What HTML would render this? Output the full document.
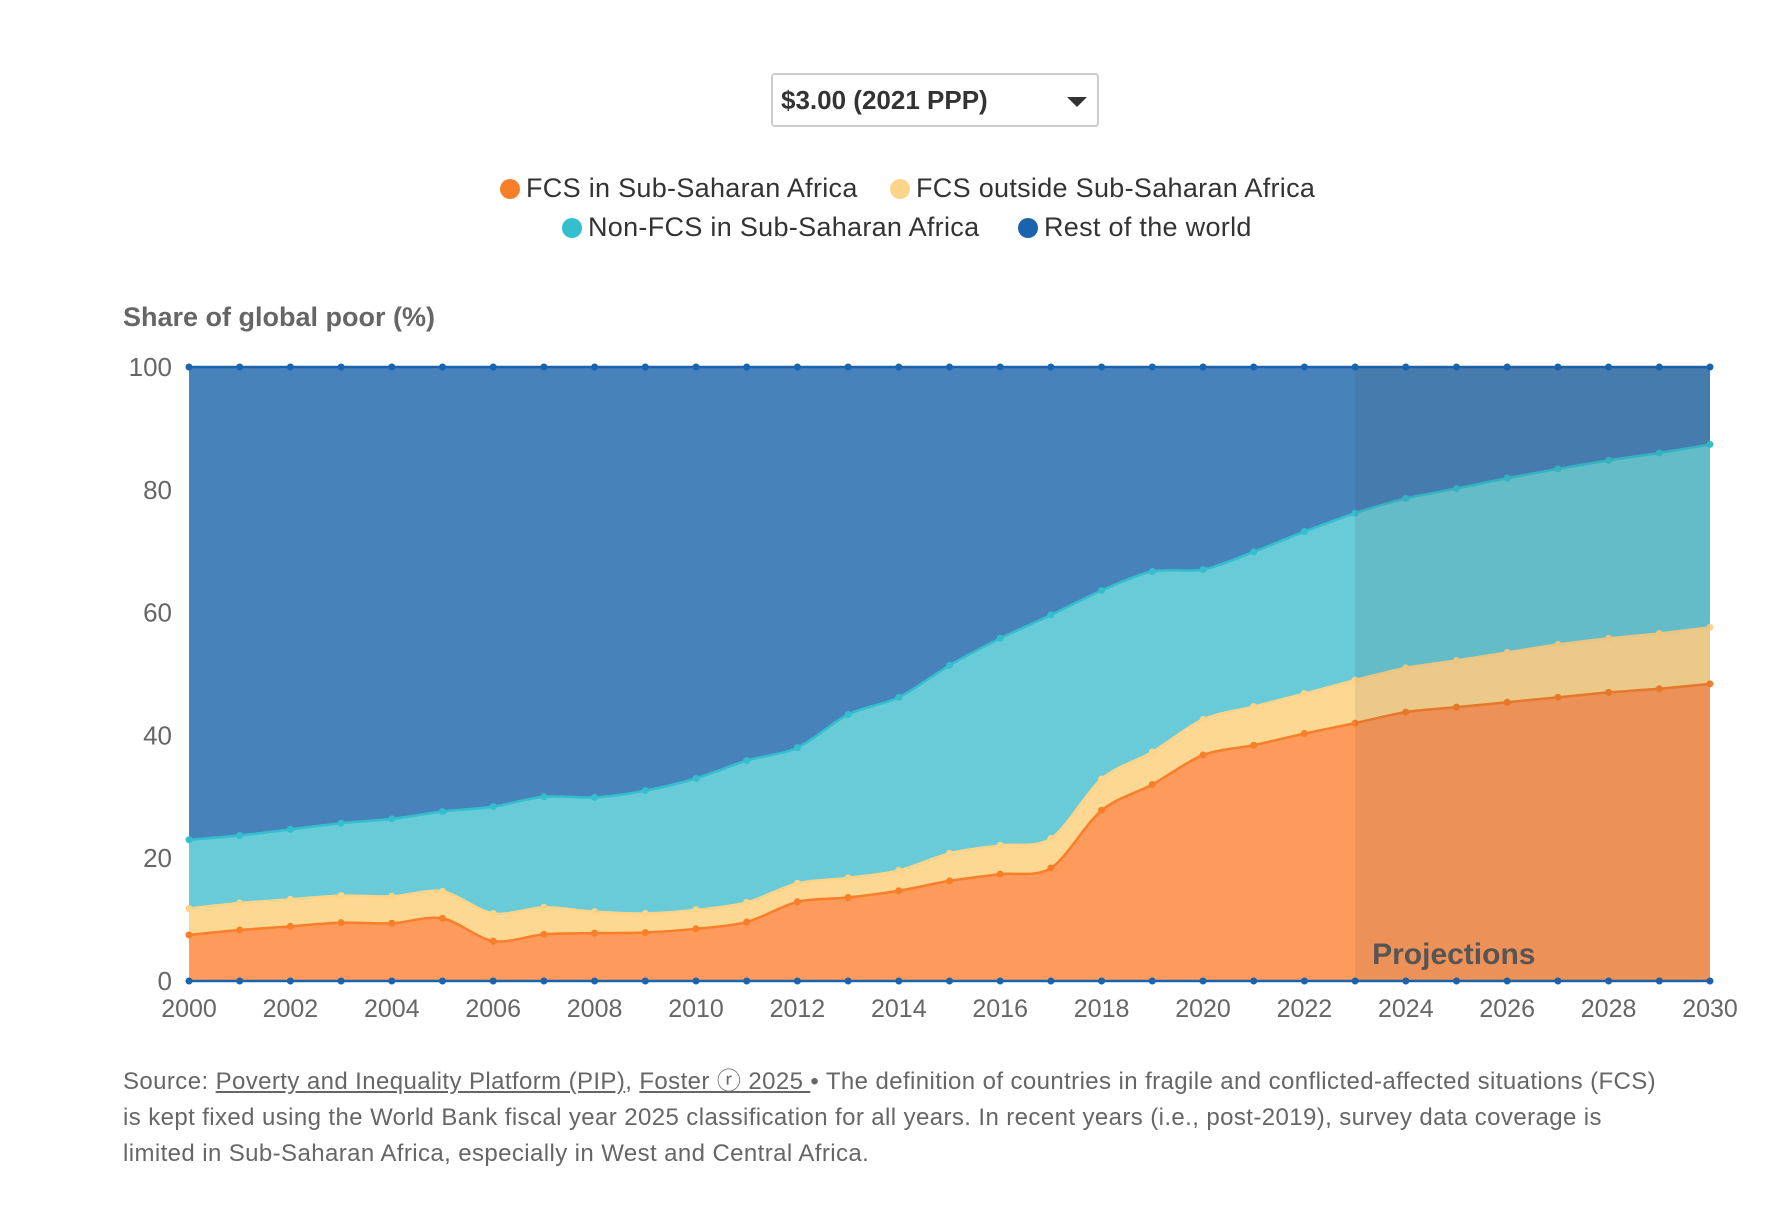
<!DOCTYPE html>
<html><head><meta charset="utf-8">
<style>
body{margin:0;background:#fff;font-family:"Liberation Sans",sans-serif;}
#wrap{position:relative;width:1782px;height:1210px;overflow:hidden;}
.dd{position:absolute;left:771px;top:73px;width:328px;height:54px;border:2px solid #ccc;border-radius:4px;box-sizing:border-box;font-weight:bold;font-size:26px;color:#333;line-height:50px;padding-left:8px;}
.dd .arr{position:absolute;right:10px;top:22px;width:0;height:0;border-left:10px solid transparent;border-right:10px solid transparent;border-top:10px solid #333;}
.leg{position:absolute;font-size:27px;color:#333;white-space:nowrap;display:flex;align-items:center;letter-spacing:0.3px;}
.dot{width:20px;height:20px;border-radius:50%;display:inline-block;margin-right:6px;}
.src{position:absolute;left:123px;top:1064px;width:1660px;font-size:24px;line-height:36px;color:#666;white-space:nowrap;letter-spacing:0.4px;}
.src u{color:#666;}
</style></head><body>
<div id="wrap">
<div class="dd">$3.00 (2021 PPP)<span class="arr"></span></div>
<div class="leg" style="left:500px;top:173px"><span class="dot" style="background:#f77f2a"></span>FCS in Sub-Saharan Africa</div>
<div class="leg" style="left:890px;top:173px"><span class="dot" style="background:#fcd58a"></span>FCS outside Sub-Saharan Africa</div>
<div class="leg" style="left:562px;top:212px"><span class="dot" style="background:#34bfcf"></span>Non-FCS in Sub-Saharan Africa</div>
<div class="leg" style="left:1018px;top:212px"><span class="dot" style="background:#1a63ad"></span>Rest of the world</div>
<svg id="svg" width="1782" height="1210" style="position:absolute;left:0;top:0"></svg>
<div class="src">Source: <u>Poverty and Inequality Platform (PIP)</u>, <u>Foster ⓡ 2025 </u> • The definition of countries in fragile and conflicted-affected situations (FCS)<br>is kept fixed using the World Bank fiscal year 2025 classification for all years. In recent years (i.e., post-2019), survey data coverage is<br>limited in Sub-Saharan Africa, especially in West and Central Africa.</div>
</div>
<script>
const years=[2000,2001,2002,2003,2004,2005,2006,2007,2008,2009,2010,2011,2012,2013,2014,2015,2016,2017,2018,2019,2020,2021,2022,2023,2024,2025,2026,2027,2028,2029,2030];
const fcsSSA=[7.5,8.3,8.9,9.5,9.4,10.2,6.5,7.6,7.8,7.9,8.5,9.6,12.9,13.6,14.7,16.3,17.4,18.4,27.8,32.0,36.8,38.4,40.3,42.0,43.8,44.6,45.4,46.2,47.0,47.6,48.4];
const fcsOut=[4.3,4.4,4.4,4.4,4.4,4.4,4.5,4.4,3.5,3.1,3.1,3.2,3.0,3.2,3.3,4.5,4.7,4.8,5.1,5.3,5.8,6.3,6.5,7.0,7.2,7.6,8.1,8.6,8.8,9.0,9.2];
const nonFcs=[11.2,11.0,11.4,11.8,12.6,13.0,17.4,18.0,18.6,20.0,21.4,23.1,22.1,26.6,28.2,30.6,33.7,36.4,30.7,29.4,24.4,25.2,26.4,27.2,27.6,28.0,28.4,28.6,29.0,29.4,29.8];
const rest=years.map((y,i)=>Math.max(0,100-fcsSSA[i]-fcsOut[i]-nonFcs[i]));
const yTicks=[0,20,40,60,80,100];
const xTicks=[2000,2002,2004,2006,2008,2010,2012,2014,2016,2018,2020,2022,2024,2026,2028,2030];
const projStart=2023;
const NS="http://www.w3.org/2000/svg";
const svg=document.getElementById('svg');
const X0=189,X1=1710,Y0=981,Y1=367;
const xs=v=>X0+(v-2000)/(2030-2000)*(X1-X0);
const ys=v=>Y0-(v/100)*(Y0-Y1);
function mk(t,a){const e=document.createElementNS(NS,t);for(const k in a)e.setAttribute(k,a[k]);svg.appendChild(e);return e;}
function smooth(pts){let d='M'+pts[0][0]+','+pts[0][1];for(let i=0;i<pts.length-1;i++){const p0=pts[Math.max(0,i-1)],p1=pts[i],p2=pts[i+1],p3=pts[Math.min(pts.length-1,i+2)];const t=0.15;d+=' C'+(p1[0]+(p2[0]-p0[0])*t)+','+(p1[1]+(p2[1]-p0[1])*t)+' '+(p2[0]-(p3[0]-p1[0])*t)+','+(p2[1]-(p3[1]-p1[1])*t)+' '+p2[0]+','+p2[1];}return d;}
yTicks.forEach(t=>{const g=mk('line',{x1:X0,x2:X1,y1:ys(t),y2:ys(t),stroke:'#e4e4e4','stroke-dasharray':'4,4'});
const l=mk('text',{x:X0-17,y:ys(t)+9,'text-anchor':'end','font-size':26,fill:'#666','font-family':'Liberation Sans'});l.textContent=t;});
xTicks.forEach(t=>{const l=mk('text',{x:xs(t),y:1017,'text-anchor':'middle','font-size':25,fill:'#666','font-family':'Liberation Sans'});l.textContent=t;});
const yt=mk('text',{x:123,y:326,'font-size':27,'font-weight':'bold',fill:'#666','font-family':'Liberation Sans'});yt.textContent='Share of global poor (%)';
const series=[[fcsSSA,'#fe9a5b','#f77f2a','fcs-ssa'],[fcsOut,'#fdd892','#fcd58a','fcs-outside-ssa'],[nonFcs,'#69cad8','#34bfcf','non-fcs-ssa'],[rest,'#4882ba','#1a63ad','rest-of-world']];
let base=years.map(()=>0);
series.forEach(([vals,fill,line,name])=>{
  const top=base.map((b,i)=>b+vals[i]);
  const tp=years.map((y,i)=>[xs(y),ys(top[i])]);
  const bp=years.map((y,i)=>[xs(y),ys(base[i])]).reverse();
  let d=smooth(tp)+' L'+bp[0][0]+','+bp[0][1]+smooth(bp).replace(/^M[^ ]+/,'')+' Z';
  const a=mk('path',{d:d,fill:fill,stroke:'none'});
  
  
  base=top;
});
base=years.map(()=>0);
series.forEach(([vals,fill,line,name])=>{
  const top=base.map((b,i)=>b+vals[i]);const tp=years.map((y,i)=>[xs(y),ys(top[i])]);
  const l=mk('path',{d:smooth(tp),fill:'none',stroke:line,'stroke-width':2.5});
  
  
  tp.forEach((p,i)=>{const c=mk('circle',{cx:p[0],cy:p[1],r:3.5,fill:line});
    
    });
  base=top;
});
const bl=mk('line',{x1:X0,x2:X1,y1:Y0,y2:Y0,stroke:'#1a63ad','stroke-width':2.5});
years.forEach(y=>{const c=mk('circle',{cx:xs(y),cy:Y0,r:3.5,fill:'#1a63ad'});
  
  });
const pr=mk('rect',{x:xs(projStart),y:Y1,width:X1-xs(projStart),height:Y0-Y1,fill:'rgba(60,60,60,0.09)'});
const pt=mk('text',{x:xs(projStart)+17,y:964,'font-size':30,'font-weight':'bold',fill:'#555','font-family':'Liberation Sans'});pt.textContent='Projections';
</script>
</body></html>
